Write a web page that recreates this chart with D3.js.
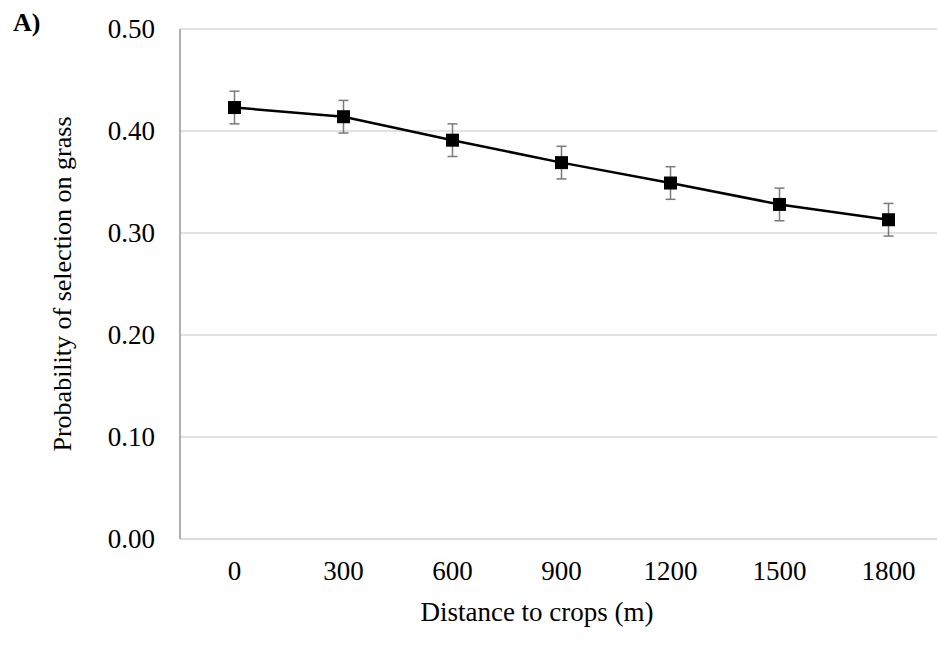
<!DOCTYPE html>
<html>
<head>
<meta charset="utf-8">
<script src="https://cdn.jsdelivr.net/npm/d3@7"></script>
<style>
  body { margin: 0; background: #fff; }
  svg text { font-family: "Liberation Serif", serif; fill: #000; }
</style>
</head>
<body>
<svg id="chart" width="937" height="649"></svg>
<script>
// data
const distances = ["0", "300", "600", "900", "1200", "1500", "1800"];
const probability = [0.423, 0.414, 0.391, 0.369, 0.349, 0.328, 0.313];
const errorSize = [0.016, 0.016, 0.016, 0.016, 0.016, 0.016, 0.016];
const yTicks = [0, 0.1, 0.2, 0.3, 0.4, 0.5];

const svg = d3.select('#chart');
const plotLeft = 180, plotRight = 943, plotTop = 29, plotBottom = 539;

const x = d3.scaleBand().domain(distances).range([plotLeft, plotRight]);
const y = d3.scaleLinear().domain([0, 0.5]).range([plotBottom, plotTop]);

// gridlines
svg.append('g')
  .selectAll('line')
  .data(yTicks.filter(d => d > 0))
  .join('line')
  .attr('x1', plotLeft).attr('x2', plotRight)
  .attr('y1', d => y(d)).attr('y2', d => y(d))
  .attr('stroke', '#d9d9d9').attr('stroke-width', 1.3);

// x axis line
svg.append('line')
  .attr('x1', plotLeft).attr('x2', plotRight)
  .attr('y1', y(0)).attr('y2', y(0))
  .attr('stroke', '#d0d0d0').attr('stroke-width', 1.3);

// y axis line
svg.append('line')
  .attr('x1', plotLeft).attr('x2', plotLeft)
  .attr('y1', plotTop).attr('y2', plotBottom)
  .attr('stroke', '#868686').attr('stroke-width', 1.3);

// y tick labels
svg.append('g')
  .selectAll('text')
  .data(yTicks)
  .join('text')
  .attr('x', 155)
  .attr('y', d => y(d))
  .attr('dy', '0.35em')
  .attr('text-anchor', 'end')
  .style('font-size', '27px')
  .text(d => d3.format('.2f')(d));

// x tick labels
svg.append('g')
  .selectAll('text')
  .data(distances)
  .join('text')
  .attr('x', d => x(d) + x.bandwidth() / 2)
  .attr('y', 571)
  .attr('dy', '0.35em')
  .attr('text-anchor', 'middle')
  .style('font-size', '27px')
  .text(d => d);

// axis titles
svg.append('text')
  .attr('x', 537).attr('y', 612)
  .attr('dy', '0.35em')
  .attr('text-anchor', 'middle')
  .style('font-size', '27px')
  .text('Distance to crops (m)');

svg.append('text')
  .attr('transform', 'translate(62,284) rotate(-90)')
  .attr('dy', '0.35em')
  .attr('text-anchor', 'middle')
  .style('font-size', '26px')
  .text('Probability of selection on grass');

svg.append('text')
  .attr('x', 13).attr('y', 31)
  .style('font-size', '26px')
  .style('font-weight', 'bold')
  .text('A)');

const cx = d => x(d) + x.bandwidth() / 2;

// error bars
const err = svg.append('g').attr('stroke', '#7a7a7a').attr('stroke-width', 1.5);
distances.forEach((d, i) => {
  const hi = y(probability[i] + errorSize[i]);
  const lo = y(probability[i] - errorSize[i]);
  err.append('line').attr('x1', cx(d)).attr('x2', cx(d)).attr('y1', hi).attr('y2', lo);
  err.append('line').attr('x1', cx(d) - 5).attr('x2', cx(d) + 5).attr('y1', hi).attr('y2', hi);
  err.append('line').attr('x1', cx(d) - 5).attr('x2', cx(d) + 5).attr('y1', lo).attr('y2', lo);
});

// line
const line = d3.line()
  .x((d, i) => cx(distances[i]))
  .y(d => y(d));
svg.append('path')
  .datum(probability)
  .attr('d', line)
  .attr('fill', 'none')
  .attr('stroke', '#000')
  .attr('stroke-width', 2.5);

// markers
const ms = 13;
svg.append('g')
  .selectAll('rect')
  .data(probability)
  .join('rect')
  .attr('x', (d, i) => cx(distances[i]) - ms / 2)
  .attr('y', d => y(d) - ms / 2)
  .attr('width', ms).attr('height', ms)
  .attr('fill', '#000');
</script>
</body>
</html>
